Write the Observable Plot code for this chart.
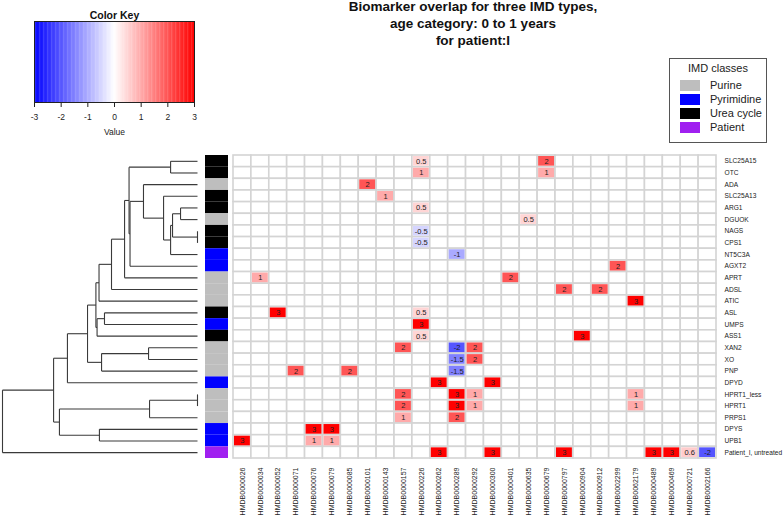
<!DOCTYPE html>
<html><head><meta charset="utf-8">
<script src="https://cdn.jsdelivr.net/npm/d3@7"></script>
<script src="https://cdn.jsdelivr.net/npm/@observablehq/plot@0.6"></script>
<style>
body{margin:0;background:#fff;font-family:"Liberation Sans",Arial,sans-serif;}
#wrap{position:relative;width:783px;height:515px;overflow:hidden;background:#fff;}
#wrap > *{position:absolute;}
#title{left:223px;width:500px;top:-2px;text-align:center;font-weight:bold;font-size:13.5px;line-height:17px;color:#111;}
#legend{left:669px;top:58px;width:98px;height:85px;border:1px solid #555;box-sizing:border-box;font-size:11px;color:#222;}
#legend .t{text-align:center;margin-top:3px;margin-bottom:4px;}
#legend .r{display:flex;align-items:center;height:14px;}
#legend .s{width:20px;height:11px;margin-left:10px;margin-right:10px;}
</style></head><body><div id="wrap"></div>
<script>
// ---- data ----
const titleLines = ["Biomarker overlap for three IMD types,", "age category: 0 to 1 years", "for patient:I"];
const rows = ["SLC25A15","OTC","ADA","SLC25A13","ARG1","DGUOK","NAGS","CPS1","NT5C3A","AGXT2","APRT","ADSL","ATIC","ASL","UMPS","ASS1","XAN2","XO","PNP","DPYD","HPRT1_less","HPRT1","PRPS1","DPYS","UPB1","Patient_I, untreated"];
const rowClass = ["Urea cycle","Urea cycle","Purine","Urea cycle","Urea cycle","Purine","Urea cycle","Urea cycle","Pyrimidine","Pyrimidine","Purine","Purine","Purine","Urea cycle","Pyrimidine","Urea cycle","Purine","Purine","Purine","Pyrimidine","Purine","Purine","Purine","Pyrimidine","Pyrimidine","Patient"];
const cols = ["HMDB0000026","HMDB0000034","HMDB0000052","HMDB0000071","HMDB0000076","HMDB0000079","HMDB0000085","HMDB0000101","HMDB0000143","HMDB0000157","HMDB0000226","HMDB0000262","HMDB0000289","HMDB0000292","HMDB0000300","HMDB0000401","HMDB0000635","HMDB0000679","HMDB0000797","HMDB0000904","HMDB0000912","HMDB0002299","HMDB0062179","HMDB0000489","HMDB0000469","HMDB0000721","HMDB0002166"];
const classNames = ["Purine","Pyrimidine","Urea cycle","Patient"];
const classColors = ["#bebebe","#0000ff","#000000","#a020f0"];
// non-empty cells: [row, column, value]
const cells = [
  ["SLC25A15","HMDB0000226",0.5],["SLC25A15","HMDB0000679",2],
  ["OTC","HMDB0000226",1],["OTC","HMDB0000679",1],
  ["ADA","HMDB0000101",2],
  ["SLC25A13","HMDB0000143",1],
  ["ARG1","HMDB0000226",0.5],
  ["DGUOK","HMDB0000635",0.5],
  ["NAGS","HMDB0000226",-0.5],
  ["CPS1","HMDB0000226",-0.5],
  ["NT5C3A","HMDB0000289",-1],
  ["AGXT2","HMDB0002299",2],
  ["APRT","HMDB0000034",1],["APRT","HMDB0000401",2],
  ["ADSL","HMDB0000797",2],["ADSL","HMDB0000912",2],
  ["ATIC","HMDB0062179",3],
  ["ASL","HMDB0000052",3],["ASL","HMDB0000226",0.5],
  ["UMPS","HMDB0000226",3],
  ["ASS1","HMDB0000226",0.5],["ASS1","HMDB0000904",3],
  ["XAN2","HMDB0000157",2],["XAN2","HMDB0000289",-2],["XAN2","HMDB0000292",2],
  ["XO","HMDB0000289",-1.5],["XO","HMDB0000292",2],
  ["PNP","HMDB0000071",2],["PNP","HMDB0000085",2],["PNP","HMDB0000289",-1.5],
  ["DPYD","HMDB0000262",3],["DPYD","HMDB0000300",3],
  ["HPRT1_less","HMDB0000157",2],["HPRT1_less","HMDB0000289",3],["HPRT1_less","HMDB0000292",1],["HPRT1_less","HMDB0062179",1],
  ["HPRT1","HMDB0000157",2],["HPRT1","HMDB0000289",3],["HPRT1","HMDB0000292",1],["HPRT1","HMDB0062179",1],
  ["PRPS1","HMDB0000157",1],["PRPS1","HMDB0000289",2],
  ["DPYS","HMDB0000076",3],["DPYS","HMDB0000079",3],
  ["UPB1","HMDB0000026",3],["UPB1","HMDB0000076",1],["UPB1","HMDB0000079",1],
  ["Patient_I, untreated","HMDB0000262",3],["Patient_I, untreated","HMDB0000300",3],["Patient_I, untreated","HMDB0000797",3],
  ["Patient_I, untreated","HMDB0000489",3],["Patient_I, untreated","HMDB0000469",3],["Patient_I, untreated","HMDB0000721",0.6],["Patient_I, untreated","HMDB0002166",-2]
];
// row dendrogram merges: [childA, childB, height]; strings = leaves, numbers = earlier merge index
const merges = [
  ["SLC25A15","OTC",1.38],   //0
  ["ARG1","DGUOK",0.87],     //1
  ["NAGS","CPS1",0.0],       //2
  [1,2,1.28],                //3
  [3,"NT5C3A",1.38],         //4
  ["SLC25A13",4,1.74],       //5
  ["ADA",5,2.77],            //6
  [6,"AGXT2",3.46],          //7
  [0,7,3.51],                //8
  [8,"APRT",3.74],           //9
  [9,"ADSL",4.41],           //10
  [10,"ATIC",5.05],          //11
  ["ASL","UMPS",4.77],       //12
  [12,"ASS1",5.15],          //13
  [11,13,5.21],              //14
  ["XAN2","XO",2.51],        //15
  [15,"PNP",4.92],           //16
  [14,16,5.64],              //17
  [17,"DPYD",6.67],          //18
  ["HPRT1_less","HPRT1",0.0],//19
  [19,"PRPS1",2.46],         //20
  ["DPYS","UPB1",5.03],      //21
  [20,21,7.08],              //22
  [18,22,7.38],              //23
  [23,"Patient_I, untreated",10] //24
];
const keyTicks = [-3,-2,-1,0,1,2,3];

// ---- build ----
const wrap = document.getElementById("wrap");
const FONT = "Liberation Sans, Arial, sans-serif";
const colorScale = {type:"linear", domain:[-3,0,3], range:["#0000ff","#ffffff","#ff0000"], interpolate:"rgb"};

// dendrogram segments
const nodePos = [];
function pos(c){ return typeof c === "string" ? {h:0, y:rows.indexOf(c)} : nodePos[c]; }
const segs = [];
merges.forEach(([a,b,h]) => {
  const pa = pos(a), pb = pos(b);
  segs.push({x1:h, y1:pa.y, x2:h, y2:pb.y});
  segs.push({x1:pa.h, y1:pa.y, x2:h, y2:pa.y});
  segs.push({x1:pb.h, y1:pb.y, x2:h, y2:pb.y});
  nodePos.push({h, y:(pa.y+pb.y)/2});
});

const dend = Plot.plot({
  width:205, height:515, marginLeft:2, marginRight:8, marginTop:155, marginBottom:57,
  x:{domain:[10,0], axis:null},
  y:{domain:[rows.length-0.5,-0.5], axis:null},
  marks:[Plot.link(segs,{x1:"x1",y1:"y1",x2:"x2",y2:"y2",stroke:"#3a3a3a",strokeWidth:1.1})]
});
dend.style.left="0px"; dend.style.top="0px";
wrap.appendChild(dend);

// side colour bar
const side = Plot.plot({
  width:23, height:515, marginLeft:0, marginRight:0, marginTop:155, marginBottom:57,
  x:{type:"band", domain:["class"], axis:null, padding:0, round:false},
  y:{type:"band", domain:rows, axis:null, padding:0, round:false},
  color:{domain:classNames, range:classColors},
  marks:[Plot.cell(rows.map((r,i)=>({row:r, cls:rowClass[i]})),{x:()=>"class", y:"row", fill:"cls"})]
});
side.style.left="205px"; side.style.top="0px";
wrap.appendChild(side);

// heatmap
const grid = d3.cross(rows, cols).map(([r,c])=>({row:r,col:c}));
const cellData = cells.map(([r,c,v])=>({row:r,col:c,value:v}));
const heat = Plot.plot({
  width:783, height:515, marginLeft:233, marginRight:67, marginTop:155, marginBottom:57,
  style:{fontFamily:FONT, fontSize:"7px", color:"#222", background:"transparent"},
  x:{type:"band", domain:cols, padding:0, round:false, tickSize:0, tickRotate:-90, tickPadding:9, label:null},
  y:{type:"band", domain:rows, padding:0, round:false, axis:null},
  color:colorScale,
  marks:[
    Plot.cell(grid,{x:"col",y:"row",fill:"white",stroke:"#d4d4d4",strokeWidth:1.6}),
    Plot.cell(cellData,{x:"col",y:"row",fill:"value",inset:1}),
    Plot.text(cellData,{x:"col",y:"row",text:d=>String(d.value),fill:"#222",fontSize:7.5}),
    Plot.axisY({anchor:"right", tickSize:0, tickPadding:8, label:null, fontSize:6.6})
  ]
});
heat.style.left="0px"; heat.style.top="0px";
wrap.appendChild(heat);

// colour key
const steps = d3.range(-3, 3, 0.05);
const key = Plot.plot({
  width:230, height:140, marginLeft:34, marginRight:36, marginTop:21, marginBottom:38,
  style:{fontFamily:FONT, fontSize:"8.5px", color:"#222", background:"transparent"},
  x:{domain:[-3,3], ticks:keyTicks, tickSize:5, tickPadding:6, label:null, tickFormat:d=>String(d)},
  y:{axis:null},
  color:colorScale,
  marks:[
    Plot.rect(steps,{x1:d=>d, x2:d=>Math.min(3,d+0.06), fill:d=>d+0.025}),
    Plot.frame({stroke:"#222", strokeWidth:1}),
    Plot.text(["Color Key"],{frameAnchor:"top", dy:-10, fontWeight:"bold", fontSize:10.5, fill:"#111"}),
    Plot.text(["Value"],{frameAnchor:"bottom", dy:32, fontSize:8.5, fill:"#222"})
  ]
});
key.style.left="0px"; key.style.top="0px";
wrap.appendChild(key);

// title
const t = document.createElement("div"); t.id="title";
t.innerHTML = titleLines.join("<br>");
wrap.appendChild(t);

// legend
const lg = document.createElement("div"); lg.id="legend";
lg.innerHTML = `<div class="t">IMD classes</div>` + classNames.map((c,i)=>`<div class="r"><div class="s" style="background:${classColors[i]}"></div>${c}</div>`).join("");
wrap.appendChild(lg);
</script></body></html>
